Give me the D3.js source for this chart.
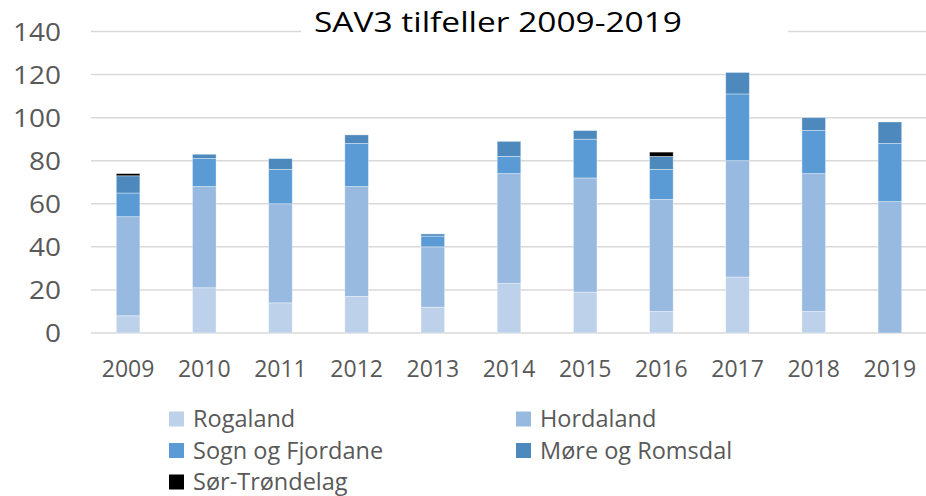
<!DOCTYPE html>
<html>
<head>
<meta charset="utf-8">
<script src="https://cdn.jsdelivr.net/npm/d3@7"></script>
<style>
  body { margin: 0; background: #fff; }
  text { font-family: "Open Sans", "Noto Sans", sans-serif; }
</style>
</head>
<body>
<script>
// data
var years = ["2009", "2010", "2011", "2012", "2013", "2014", "2015", "2016", "2017", "2018", "2019"];
var rogaland = [8, 21, 14, 17, 12, 23, 19, 10, 26, 10, 0];
var hordaland = [46, 47, 46, 51, 28, 51, 53, 52, 54, 64, 61];
var sognFjordane = [11, 13, 16, 20, 5, 8, 18, 14, 31, 20, 27];
var moreRomsdal = [8, 2, 5, 4, 1, 7, 4, 6, 10, 6, 10];
var sorTrondelag = [1, 0, 0, 0, 0, 0, 0, 2, 0, 0, 0];
var seriesNames = ["Rogaland", "Hordaland", "Sogn og Fjordane", "Møre og Romsdal", "Sør-Trøndelag"];
var yTicks = [0, 20, 40, 60, 80, 100, 120, 140];

var colors = ["#bdd1ea", "#98b9e0", "#5b9bd5", "#4e89bd", "#000000"];
var seriesValues = [rogaland, hordaland, sognFjordane, moreRomsdal, sorTrondelag];

var width = 926, height = 496;

var svg = d3.select("body").append("svg")
    .attr("width", width)
    .attr("height", height);

// plot area
var x = d3.scaleBand()
    .domain(years)
    .range([90, 928])
    .paddingInner(0.69)
    .paddingOuter(0.345);

var y = d3.scaleLinear()
    .domain([0, 140])
    .range([333, 31.5]);

// gridlines
svg.append("g")
  .selectAll("line")
  .data(yTicks)
  .enter().append("line")
    .attr("x1", 91)
    .attr("x2", 926)
    .attr("y1", function(d) { return y(d); })
    .attr("y2", function(d) { return y(d); })
    .attr("stroke", "#d9d9d9")
    .attr("stroke-width", 1.5);

// y labels
svg.append("g")
  .selectAll("text")
  .data(yTicks)
  .enter().append("text")
    .attr("x", 61)
    .attr("y", function(d) { return y(d); })
    .attr("dy", "0.36em")
    .attr("text-anchor", "end")
    .attr("fill", "#595959")
    .attr("font-size", 25)
    .attr("textLength", function(d) { return String(d).length * 16; })
    .attr("lengthAdjust", "spacingAndGlyphs")
    .text(function(d) { return d; });

// stacked bars
var table = years.map(function(yr, i) {
  var row = { year: yr };
  seriesNames.forEach(function(s, k) { row[s] = seriesValues[k][i]; });
  return row;
});
var stacked = d3.stack().keys(seriesNames)(table);

svg.append("g")
  .selectAll("g")
  .data(stacked)
  .enter().append("g")
    .attr("fill", function(d, i) { return colors[i]; })
  .selectAll("rect")
  .data(function(d) { return d; })
  .enter().append("rect")
    .attr("x", function(d) { return x(d.data.year); })
    .attr("width", x.bandwidth())
    .attr("y", function(d) { return y(d[1]); })
    .attr("height", function(d) { return y(d[0]) - y(d[1]); })
    .attr("stroke", "#ffffff")
    .attr("stroke-opacity", 0.5)
    .attr("stroke-width", 0.75);

// x labels
svg.append("g")
  .selectAll("text")
  .data(years)
  .enter().append("text")
    .attr("x", function(d) { return x(d) + x.bandwidth() / 2; })
    .attr("y", 369)
    .attr("dy", "0.36em")
    .attr("text-anchor", "middle")
    .attr("fill", "#595959")
    .attr("font-size", 23)
    .text(function(d) { return d; });

// title sits on a white box over the 140 gridline
svg.append("rect")
    .attr("x", 301)
    .attr("y", 4)
    .attr("width", 487)
    .attr("height", 42)
    .attr("fill", "#fff");

svg.append("text")
    .attr("x", 498)
    .attr("y", 22)
    .attr("dy", "0.36em")
    .attr("text-anchor", "middle")
    .attr("fill", "#000")
    .attr("font-size", 28)
    .attr("textLength", 368)
    .attr("lengthAdjust", "spacingAndGlyphs")
    .text("SAV3 tilfeller 2009-2019");

// legend, two columns
var legend = svg.append("g")
  .selectAll("g")
  .data(seriesNames)
  .enter().append("g")
    .attr("transform", function(d, i) {
      var col = i % 2, row = Math.floor(i / 2);
      return "translate(" + (col == 0 ? 169 : 516) + "," + (419 + row * 31.5) + ")";
    });

legend.append("rect")
    .attr("x", 0)
    .attr("y", -7.5)
    .attr("width", 15)
    .attr("height", 15)
    .attr("fill", function(d, i) { return colors[i]; });

legend.append("text")
    .attr("x", 24)
    .attr("y", 0)
    .attr("dy", "0.36em")
    .attr("fill", "#595959")
    .attr("font-size", 23.5)
    .text(function(d) { return d; });
</script>
</body>
</html>
